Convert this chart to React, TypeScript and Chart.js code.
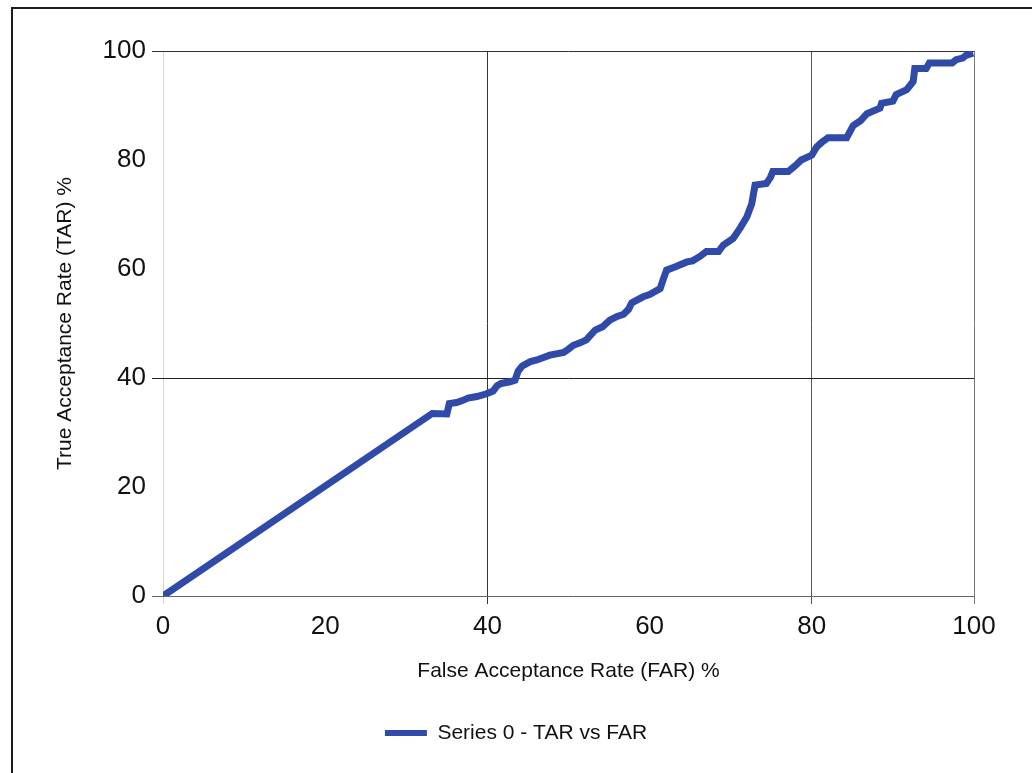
import React, { useEffect, useRef } from "react";
import { Chart, registerables } from "chart.js";

Chart.register(...registerables);

// ---- data ----
const farValues = [
  0, 33.2, 35.0, 35.3, 36.2, 37.0, 37.6, 38.7, 39.9, 40.7, 41.2, 41.7, 42.8, 43.4,
  43.8, 44.3, 45.3, 46.1, 47.0, 47.7, 49.4, 50.0, 50.6, 51.5, 52.2, 52.7, 53.3,
  54.2, 55.1, 56.0, 56.8, 57.4, 57.8, 59.2, 60.0, 61.3, 61.7, 62.1, 63.2, 64.6,
  65.3, 66.2, 67.0, 68.5, 69.1, 70.3, 71.2, 72.0, 72.6, 73.0, 74.4, 74.9, 75.2,
  77.1, 78.0, 78.7, 80.0, 80.6, 81.2, 82.0, 84.3, 85.1, 86.0, 86.8, 88.4, 88.6,
  90.0, 90.4, 91.7, 92.5, 92.7, 94.1, 94.5, 97.3, 97.8, 98.6, 99.0, 99.9,
];
const tarValues = [
  0, 33.5, 33.4, 35.3, 35.5, 35.9, 36.3, 36.6, 37.1, 37.6, 38.6, 39.0, 39.3, 39.6,
  41.3, 42.2, 43.0, 43.3, 43.8, 44.2, 44.7, 45.3, 46.0, 46.5, 47.0, 47.8, 48.8,
  49.4, 50.6, 51.3, 51.7, 52.6, 53.8, 54.9, 55.3, 56.4, 58.2, 59.8, 60.4, 61.3,
  61.5, 62.3, 63.2, 63.2, 64.4, 65.6, 67.6, 69.6, 72.0, 75.4, 75.7, 76.8, 77.9,
  77.9, 79.0, 80.0, 80.9, 82.4, 83.2, 84.1, 84.1, 86.3, 87.2, 88.5, 89.5, 90.4,
  90.8, 92.0, 92.9, 94.4, 96.8, 96.8, 97.8, 97.8, 98.4, 98.7, 99.2, 99.6,
];
const xTickValues = [0, 20, 40, 60, 80, 100];
const yTickValues = [0, 20, 40, 60, 80, 100];
const seriesLabel = "Series 0 - TAR vs FAR";
const xTitle = "False Acceptance Rate (FAR) %";
const yTitle = "True Acceptance Rate (TAR) %";

// ---- styling ----
const FONT = '"Liberation Sans", Arial, Helvetica, sans-serif';
const LINE_COLOR = "#2f4aa8";
const TEXT_COLOR = "#111111";
const xGridColors: Record<number, string> = { 0: "#d6d6d6", 40: "#333333", 80: "#555555", 100: "#777777" };
const yGridColors: Record<number, string> = { 0: "#666666", 40: "#222222", 100: "#333333" };

export default function App() {
  const canvasRef = useRef<HTMLCanvasElement | null>(null);

  useEffect(() => {
    const canvas = canvasRef.current;
    if (!canvas) return;
    const points = farValues.map((x, i) => ({ x, y: tarValues[i] }));
    const chart = new Chart(canvas, {
      type: "scatter",
      data: {
        datasets: [
          {
            label: seriesLabel,
            data: points,
            showLine: true,
            borderColor: LINE_COLOR,
            backgroundColor: LINE_COLOR,
            borderWidth: 7,
            pointRadius: 0,
            pointHoverRadius: 0,
            tension: 0,
            fill: false,
          } as any,
        ],
      },
      options: {
        animation: false,
        responsive: false,
        maintainAspectRatio: false,
        layout: { padding: { left: 58, right: 58, top: 51, bottom: 19.5 } },
        plugins: {
          tooltip: { enabled: false },
          legend: {
            display: true,
            position: "bottom",
            labels: {
              boxWidth: 42,
              boxHeight: 6,
              padding: 10,
              color: TEXT_COLOR,
              font: { family: FONT, size: 21 },
              generateLabels: (c: any) =>
                Chart.defaults.plugins.legend.labels
                  .generateLabels(c)
                  .map((l: any) => ({ ...l, lineWidth: 0, fillStyle: LINE_COLOR, strokeStyle: LINE_COLOR })),
            },
          },
        },
        scales: {
          x: {
            type: "linear",
            min: 0,
            max: 100,
            afterBuildTicks: (s: any) => {
              s.ticks = xTickValues.map((v) => ({ value: v }));
            },
            ticks: {
              color: TEXT_COLOR,
              font: { family: FONT, size: 26 },
              padding: 7,
              maxRotation: 0,
            },
            grid: {
              color: (ctx: any) => xGridColors[ctx.tick?.value] ?? "rgba(0,0,0,0)",
              tickColor: (ctx: any) => xGridColors[ctx.tick?.value] ?? "rgba(0,0,0,0)",
              tickLength: 8,
              lineWidth: 1,
            },
            border: { display: false },
            title: {
              display: true,
              text: xTitle,
              color: TEXT_COLOR,
              font: { family: FONT, size: 21 },
              padding: { top: 0, bottom: 29 },
            },
            afterFit: (s: any) => {
              s.height = 116.5;
            },
          },
          y: {
            type: "linear",
            min: 0,
            max: 100,
            afterBuildTicks: (s: any) => {
              s.ticks = yTickValues.map((v) => ({ value: v }));
            },
            ticks: {
              color: TEXT_COLOR,
              font: { family: FONT, size: 26 },
              padding: 6,
            },
            grid: {
              color: (ctx: any) => yGridColors[ctx.tick?.value] ?? "rgba(0,0,0,0)",
              tickColor: (ctx: any) => yGridColors[ctx.tick?.value] ?? "rgba(0,0,0,0)",
              tickLength: 11,
              lineWidth: 1,
            },
            border: { display: false },
            title: {
              display: true,
              text: yTitle,
              color: TEXT_COLOR,
              font: { family: FONT, size: 21, lineHeight: 0.667 },
              padding: { top: 0, bottom: 0 },
            },
            afterFit: (s: any) => {
              s.width = 105;
            },
          },
        },
      } as any,
    });
    return () => chart.destroy();
  }, []);

  return (
    <div style={{ position: "absolute", left: 0, top: 0, width: 1032, height: 773, background: "#ffffff", overflow: "hidden" }}>
      <canvas ref={canvasRef} width={1032} height={773} style={{ position: "absolute", left: 0, top: 0, width: 1032, height: 773 }} />
      <div
        style={{
          position: "absolute",
          left: 11,
          top: 7,
          width: 1021,
          height: 766,
          borderLeft: "2px solid #1c1c1c",
          borderTop: "2px solid #1c1c1c",
          boxSizing: "border-box",
          pointerEvents: "none",
        }}
      />
    </div>
  );
}
